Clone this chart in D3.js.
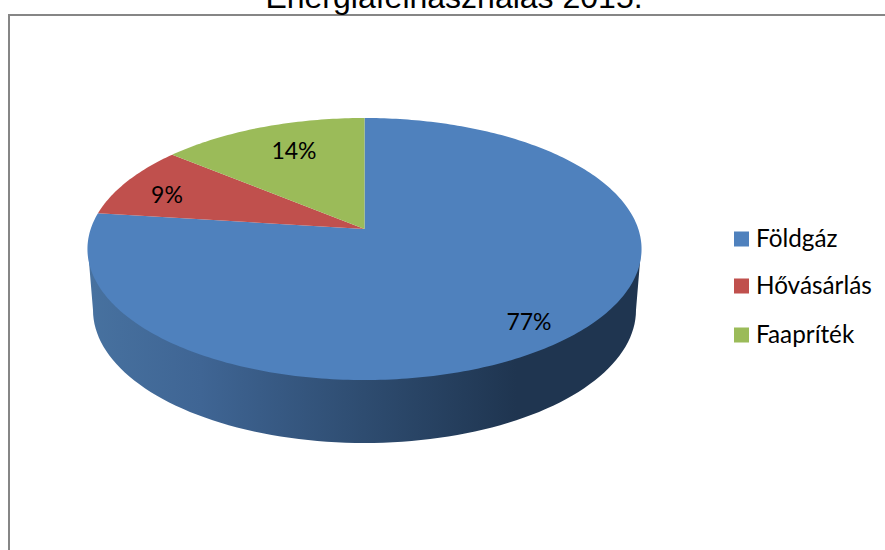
<!DOCTYPE html>
<html>
<head>
<meta charset="utf-8">
<script src="https://cdn.jsdelivr.net/npm/d3@7"></script>
<style>
html, body { margin: 0; padding: 0; background: #fff; overflow: hidden; }
svg { display: block; }
</style>
</head>
<body>
<svg id="chart" width="885" height="550"></svg>
<script>
// chart data
const categories = ["Földgáz", "Hővásárlás", "Faapríték"];
const shares = [77, 9, 14];
const sliceColors = ["#4f81bd", "#c0504d", "#9bbb59"];
const titleText = "Energiafelhasználás 2015.";

const svg = d3.select("#chart");

// frame
svg.append("path")
    .attr("d", "M9,550V15H885")
    .attr("fill", "none")
    .attr("stroke", "#868686")
    .attr("stroke-width", 2);

// the reference cuts the title off at the top of the page
svg.append("text")
    .attr("x", 454)
    .attr("y", 8)
    .attr("text-anchor", "middle")
    .attr("font-family", "Liberation Sans")
    .attr("font-size", 32)
    .attr("fill", "#000")
    .text(titleText);

// perspective of the pie disc: back edge y=118, apex y=229, front edge y=380
const cx = 364.5, apexY = 229, persp = -0.1527, slopeY = 93, halfW = 273.8;

function project(angle, r) {
    // angle clockwise from 12 o'clock, r in 0..1
    const u = r * Math.sin(angle), v = -r * Math.cos(angle);
    const d = 1 + persp * v;
    return [cx + halfW * u / d, (slopeY * v + apexY) / d];
}

const pie = d3.pie().sort(null).value(d => d)(shares);
const line = d3.line();

// side wall
const wallGrad = svg.append("defs").append("linearGradient")
    .attr("id", "wall")
    .attr("gradientUnits", "userSpaceOnUse")
    .attr("x1", 92).attr("x2", 636).attr("y1", 0).attr("y2", 0);
[[0, "#47719f"], [0.2, "#3f6594"], [0.5, "#2e4c70"], [0.78, "#1f3550"], [1, "#1f3550"]].forEach(s => {
    wallGrad.append("stop").attr("offset", s[0]).attr("stop-color", s[1]);
});

const wallCy = 310, wallRx = 271.5, wallRy = 133;
const wallPts = [[88, 250]];
d3.range(0, 181, 2).forEach(deg => {
    const a = Math.PI - deg * Math.PI / 180;
    wallPts.push([cx + wallRx * Math.cos(a), wallCy + wallRy * Math.sin(a)]);
});
wallPts.push([641, 250]);
svg.append("path")
    .attr("d", line(wallPts) + "Z")
    .attr("fill", "url(#wall)");

// disc slices
function slicePath(d) {
    const n = Math.ceil((d.endAngle - d.startAngle) * 60);
    const pts = [project(0, 0)];
    d3.range(n + 1).forEach(i => {
        pts.push(project(d.startAngle + (d.endAngle - d.startAngle) * i / n, 1));
    });
    return line(pts) + "Z";
}

svg.selectAll("path.slice")
    .data(pie)
    .join("path")
    .attr("class", "slice")
    .attr("d", slicePath)
    .attr("fill", (d, i) => sliceColors[i]);

// value labels
const labelX = [529, 167, 294];
const labelY = [330, 203, 159];
svg.selectAll("text.val")
    .data(shares)
    .join("text")
    .attr("class", "val")
    .attr("x", (d, i) => labelX[i])
    .attr("y", (d, i) => labelY[i])
    .attr("text-anchor", "middle")
    .attr("font-family", "Lato")
    .attr("font-size", 23)
    .attr("fill", "#000")
    .text(d => d + "%");

// legend
const legendY = [239, 286, 335];
const legend = svg.selectAll("g.leg")
    .data(categories)
    .join("g")
    .attr("class", "leg")
    .attr("transform", (d, i) => "translate(734," + legendY[i] + ")");
legend.append("rect")
    .attr("y", -7.5)
    .attr("width", 15)
    .attr("height", 15)
    .attr("fill", (d, i) => sliceColors[i]);
legend.append("text")
    .attr("x", 22)
    .attr("y", 8)
    .attr("font-family", "Lato")
    .attr("font-size", 24.3)
    .attr("fill", "#000")
    .text(d => d);
</script>
</body>
</html>
